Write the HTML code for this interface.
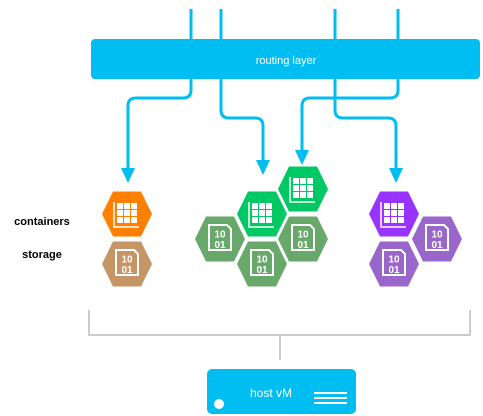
<!DOCTYPE html>
<html><head><style>body{margin:0;background:#fff}svg{display:block}</style></head><body>
<svg width="483" height="416" viewBox="0 0 483 416" xmlns="http://www.w3.org/2000/svg" font-family="Liberation Sans, sans-serif">
<defs>
<g id="hex"><polygon points="-25,0 -14,-22.5 14,-22.5 25,0 14,22.5 -14,22.5"/></g>
<g id="grid" fill="#fff">
<rect x="-10" y="-11" width="6" height="6"/><rect x="-3" y="-11" width="6" height="6"/><rect x="4" y="-11" width="6" height="6"/>
<rect x="-10" y="-4" width="6" height="6"/><rect x="-3" y="-4" width="6" height="6"/><rect x="4" y="-4" width="6" height="6"/>
<rect x="-10" y="3" width="6" height="6"/><rect x="-3" y="3" width="6" height="6"/><rect x="4" y="3" width="6" height="6"/>
<path d="M-13,-12 V13 H12" fill="none" stroke="#fff" stroke-width="1.5"/>
</g>
<g id="doc"><path d="M-11,-14 H7 L11,-10 V11 H-11 Z" fill="none" stroke="#fff" stroke-width="2"/>
<text x="0" y="-1.5" font-size="10" font-weight="bold" fill="#fff" text-anchor="middle">10</text>
<text x="0" y="9" font-size="10" font-weight="bold" fill="#fff" text-anchor="middle">01</text></g>
</defs>
<g fill="none" stroke="#00bef2" stroke-width="3">
<path d="M191,9 V90 Q191,98 183,98 H136 Q128,98 128,106 V172"/>
<path d="M221,9 V110 Q221,118 229,118 H255 Q263,118 263,126 V164"/>
<path d="M398,9 V90 Q398,98 390,98 H310 Q302,98 302,106 V154"/>
<path d="M335,9 V110 Q335,118 343,118 H388 Q396,118 396,126 V172"/>
</g>
<g fill="#00bef2">
<polygon points="121,168 135,168 128,183"/>
<polygon points="256,160 270,160 263,175"/>
<polygon points="295,150 309,150 302,165"/>
<polygon points="389,168 403,168 396,183"/>
</g>
<rect x="91" y="39" width="389" height="40" rx="4" fill="#00bef2"/>
<text x="286" y="64" font-size="11" fill="#fff" text-anchor="middle">routing layer</text>
<text x="42" y="225" font-size="11" font-weight="bold" text-anchor="middle">containers</text>
<text x="42" y="258" font-size="11" font-weight="bold" text-anchor="middle">storage</text>
<g transform="translate(127,214)"><use href="#hex" fill="#ff8000"/><use href="#grid"/></g>
<g transform="translate(127,264)"><use href="#hex" fill="#c49565"/><use href="#doc"/></g>
<g transform="translate(303,189)"><use href="#hex" fill="#00c864"/><use href="#grid"/></g>
<g transform="translate(262,214)"><use href="#hex" fill="#00c864"/><use href="#grid"/></g>
<g transform="translate(220,239)"><use href="#hex" fill="#68a86a"/><use href="#doc"/></g>
<g transform="translate(303,239)"><use href="#hex" fill="#68a86a"/><use href="#doc"/></g>
<g transform="translate(262,264)"><use href="#hex" fill="#68a86a"/><use href="#doc"/></g>
<g transform="translate(394,214)"><use href="#hex" fill="#9933ff"/><use href="#grid"/></g>
<g transform="translate(437,239)"><use href="#hex" fill="#9966cc"/><use href="#doc"/></g>
<g transform="translate(394,264)"><use href="#hex" fill="#9966cc"/><use href="#doc"/></g>
<path d="M89,310 V335 H470 V310 M280,335 V360" fill="none" stroke="#ccc" stroke-width="2"/>
<rect x="207" y="369" width="149" height="45" rx="5" fill="#00bef2"/>
<text x="271" y="397" font-size="12" fill="#fff" text-anchor="middle">host vM</text>
<circle cx="219" cy="404" r="5" fill="#fff"/>
<g stroke="#fff" stroke-width="2"><line x1="314" y1="393" x2="347" y2="393"/><line x1="314" y1="398" x2="347" y2="398"/><line x1="314" y1="403" x2="347" y2="403"/></g>
</svg>
</body></html>
